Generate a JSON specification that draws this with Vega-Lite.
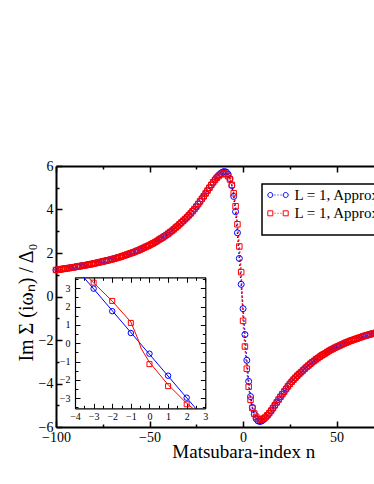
{
"$schema": "https://vega.github.io/schema/vega-lite/v6.json",
"autosize": {"type": "none"},
"width": 318, "height": 261,
"padding": {"left": 56, "top": 166, "right": 0, "bottom": 57},
"config": {"font": "Liberation Serif", "view": {"stroke": null},
  "legend": {"strokeWidth": 1.5},
  "axis": {"labelFont": "Liberation Serif", "titleFont": "Liberation Serif", "labelColor": "black", "titleColor": "black", "domainColor": "black", "tickColor": "black", "grid": false, "labelFlush": false, "labelOverlap": false, "titleFontWeight": "normal", "labelBound": false}},
"datasets": {
"blue": [
{"n":-100,"v":1.22},{"n":-99,"v":1.23},{"n":-98,"v":1.24},{"n":-97,"v":1.26},{"n":-96,"v":1.27},{"n":-95,"v":1.28},{"n":-94,"v":1.30},{"n":-93,"v":1.31},{"n":-92,"v":1.32},{"n":-91,"v":1.34},
{"n":-90,"v":1.35},{"n":-89,"v":1.37},{"n":-88,"v":1.38},{"n":-87,"v":1.40},{"n":-86,"v":1.41},{"n":-85,"v":1.43},{"n":-84,"v":1.44},{"n":-83,"v":1.46},{"n":-82,"v":1.48},{"n":-81,"v":1.49},
{"n":-80,"v":1.51},{"n":-79,"v":1.53},{"n":-78,"v":1.55},{"n":-77,"v":1.57},{"n":-76,"v":1.59},{"n":-75,"v":1.61},{"n":-74,"v":1.63},{"n":-73,"v":1.65},{"n":-72,"v":1.67},{"n":-71,"v":1.69},
{"n":-70,"v":1.71},{"n":-69,"v":1.74},{"n":-68,"v":1.76},{"n":-67,"v":1.79},{"n":-66,"v":1.81},{"n":-65,"v":1.84},{"n":-64,"v":1.87},{"n":-63,"v":1.90},{"n":-62,"v":1.93},{"n":-61,"v":1.96},
{"n":-60,"v":1.99},{"n":-59,"v":2.02},{"n":-58,"v":2.05},{"n":-57,"v":2.09},{"n":-56,"v":2.12},{"n":-55,"v":2.16},{"n":-54,"v":2.20},{"n":-53,"v":2.24},{"n":-52,"v":2.28},{"n":-51,"v":2.32},
{"n":-50,"v":2.36},{"n":-49,"v":2.41},{"n":-48,"v":2.45},{"n":-47,"v":2.50},{"n":-46,"v":2.55},{"n":-45,"v":2.61},{"n":-44,"v":2.66},{"n":-43,"v":2.71},{"n":-42,"v":2.77},{"n":-41,"v":2.83},
{"n":-40,"v":2.89},{"n":-39,"v":2.96},{"n":-38,"v":3.02},{"n":-37,"v":3.09},{"n":-36,"v":3.17},{"n":-35,"v":3.24},{"n":-34,"v":3.32},{"n":-33,"v":3.40},{"n":-32,"v":3.48},{"n":-31,"v":3.56},
{"n":-30,"v":3.64},{"n":-29,"v":3.73},{"n":-28,"v":3.82},{"n":-27,"v":3.92},{"n":-26,"v":4.02},{"n":-25,"v":4.13},{"n":-24,"v":4.25},{"n":-23,"v":4.37},{"n":-22,"v":4.49},{"n":-21,"v":4.61},
{"n":-20,"v":4.74},{"n":-19,"v":4.87},{"n":-18,"v":5.00},{"n":-17,"v":5.13},{"n":-16,"v":5.25},{"n":-15,"v":5.37},{"n":-14,"v":5.48},{"n":-13,"v":5.58},{"n":-12,"v":5.66},{"n":-11,"v":5.72},
{"n":-10,"v":5.75},{"n":-9,"v":5.72},{"n":-8,"v":5.62},{"n":-7,"v":5.42},{"n":-6,"v":5.10},{"n":-5,"v":4.60},{"n":-4,"v":3.90},{"n":-3,"v":2.93},{"n":-2,"v":1.75},{"n":-1,"v":0.56},
{"n":0,"v":-0.56},{"n":1,"v":-1.75},{"n":2,"v":-2.93},{"n":3,"v":-3.90},{"n":4,"v":-4.60},{"n":5,"v":-5.10},{"n":6,"v":-5.42},{"n":7,"v":-5.62},{"n":8,"v":-5.72},{"n":9,"v":-5.75},
{"n":10,"v":-5.72},{"n":11,"v":-5.66},{"n":12,"v":-5.58},{"n":13,"v":-5.48},{"n":14,"v":-5.37},{"n":15,"v":-5.25},{"n":16,"v":-5.13},{"n":17,"v":-5.00},{"n":18,"v":-4.87},{"n":19,"v":-4.74},
{"n":20,"v":-4.61},{"n":21,"v":-4.49},{"n":22,"v":-4.37},{"n":23,"v":-4.25},{"n":24,"v":-4.13},{"n":25,"v":-4.02},{"n":26,"v":-3.92},{"n":27,"v":-3.82},{"n":28,"v":-3.73},{"n":29,"v":-3.64},
{"n":30,"v":-3.56},{"n":31,"v":-3.48},{"n":32,"v":-3.40},{"n":33,"v":-3.32},{"n":34,"v":-3.24},{"n":35,"v":-3.17},{"n":36,"v":-3.09},{"n":37,"v":-3.02},{"n":38,"v":-2.96},{"n":39,"v":-2.89},
{"n":40,"v":-2.83},{"n":41,"v":-2.77},{"n":42,"v":-2.71},{"n":43,"v":-2.66},{"n":44,"v":-2.61},{"n":45,"v":-2.55},{"n":46,"v":-2.50},{"n":47,"v":-2.45},{"n":48,"v":-2.41},{"n":49,"v":-2.36},
{"n":50,"v":-2.32},{"n":51,"v":-2.28},{"n":52,"v":-2.24},{"n":53,"v":-2.20},{"n":54,"v":-2.16},{"n":55,"v":-2.12},{"n":56,"v":-2.09},{"n":57,"v":-2.05},{"n":58,"v":-2.02},{"n":59,"v":-1.99},
{"n":60,"v":-1.96},{"n":61,"v":-1.93},{"n":62,"v":-1.90},{"n":63,"v":-1.87},{"n":64,"v":-1.84},{"n":65,"v":-1.81},{"n":66,"v":-1.79},{"n":67,"v":-1.76},{"n":68,"v":-1.74},{"n":69,"v":-1.71},
{"n":70,"v":-1.69},{"n":71,"v":-1.67}
],
"red": [
{"n":-100,"v":1.22},{"n":-99,"v":1.23},{"n":-98,"v":1.24},{"n":-97,"v":1.26},{"n":-96,"v":1.27},{"n":-95,"v":1.28},{"n":-94,"v":1.30},{"n":-93,"v":1.31},{"n":-92,"v":1.32},{"n":-91,"v":1.34},
{"n":-90,"v":1.35},{"n":-89,"v":1.37},{"n":-88,"v":1.38},{"n":-87,"v":1.40},{"n":-86,"v":1.41},{"n":-85,"v":1.43},{"n":-84,"v":1.44},{"n":-83,"v":1.46},{"n":-82,"v":1.48},{"n":-81,"v":1.49},
{"n":-80,"v":1.51},{"n":-79,"v":1.53},{"n":-78,"v":1.55},{"n":-77,"v":1.57},{"n":-76,"v":1.59},{"n":-75,"v":1.61},{"n":-74,"v":1.63},{"n":-73,"v":1.65},{"n":-72,"v":1.67},{"n":-71,"v":1.69},
{"n":-70,"v":1.71},{"n":-69,"v":1.74},{"n":-68,"v":1.76},{"n":-67,"v":1.79},{"n":-66,"v":1.81},{"n":-65,"v":1.84},{"n":-64,"v":1.87},{"n":-63,"v":1.90},{"n":-62,"v":1.93},{"n":-61,"v":1.96},
{"n":-60,"v":1.99},{"n":-59,"v":2.02},{"n":-58,"v":2.05},{"n":-57,"v":2.09},{"n":-56,"v":2.12},{"n":-55,"v":2.16},{"n":-54,"v":2.20},{"n":-53,"v":2.24},{"n":-52,"v":2.28},{"n":-51,"v":2.32},
{"n":-50,"v":2.36},{"n":-49,"v":2.41},{"n":-48,"v":2.45},{"n":-47,"v":2.50},{"n":-46,"v":2.55},{"n":-45,"v":2.61},{"n":-44,"v":2.66},{"n":-43,"v":2.71},{"n":-42,"v":2.77},{"n":-41,"v":2.83},
{"n":-40,"v":2.89},{"n":-39,"v":2.96},{"n":-38,"v":3.02},{"n":-37,"v":3.09},{"n":-36,"v":3.17},{"n":-35,"v":3.24},{"n":-34,"v":3.32},{"n":-33,"v":3.40},{"n":-32,"v":3.48},{"n":-31,"v":3.56},
{"n":-30,"v":3.64},{"n":-29,"v":3.73},{"n":-28,"v":3.82},{"n":-27,"v":3.92},{"n":-26,"v":4.02},{"n":-25,"v":4.13},{"n":-24,"v":4.25},{"n":-23,"v":4.37},{"n":-22,"v":4.49},{"n":-21,"v":4.61},
{"n":-20,"v":4.74},{"n":-19,"v":4.87},{"n":-18,"v":5.00},{"n":-17,"v":5.13},{"n":-16,"v":5.25},{"n":-15,"v":5.36},{"n":-14,"v":5.46},{"n":-13,"v":5.54},{"n":-12,"v":5.61},{"n":-11,"v":5.65},
{"n":-10,"v":5.66},{"n":-9,"v":5.62},{"n":-8,"v":5.53},{"n":-7,"v":5.38},{"n":-6,"v":5.13},{"n":-5,"v":4.75},{"n":-4,"v":4.15},{"n":-3,"v":3.32},{"n":-2,"v":2.30},{"n":-1,"v":1.12},
{"n":0,"v":-1.12},{"n":1,"v":-2.30},{"n":2,"v":-3.32},{"n":3,"v":-4.15},{"n":4,"v":-4.75},{"n":5,"v":-5.13},{"n":6,"v":-5.38},{"n":7,"v":-5.53},{"n":8,"v":-5.62},{"n":9,"v":-5.66},
{"n":10,"v":-5.65},{"n":11,"v":-5.61},{"n":12,"v":-5.54},{"n":13,"v":-5.46},{"n":14,"v":-5.36},{"n":15,"v":-5.25},{"n":16,"v":-5.13},{"n":17,"v":-5.00},{"n":18,"v":-4.87},{"n":19,"v":-4.74},
{"n":20,"v":-4.61},{"n":21,"v":-4.49},{"n":22,"v":-4.37},{"n":23,"v":-4.25},{"n":24,"v":-4.13},{"n":25,"v":-4.02},{"n":26,"v":-3.92},{"n":27,"v":-3.82},{"n":28,"v":-3.73},{"n":29,"v":-3.64},
{"n":30,"v":-3.56},{"n":31,"v":-3.48},{"n":32,"v":-3.40},{"n":33,"v":-3.32},{"n":34,"v":-3.24},{"n":35,"v":-3.17},{"n":36,"v":-3.09},{"n":37,"v":-3.02},{"n":38,"v":-2.96},{"n":39,"v":-2.89},
{"n":40,"v":-2.83},{"n":41,"v":-2.77},{"n":42,"v":-2.71},{"n":43,"v":-2.66},{"n":44,"v":-2.61},{"n":45,"v":-2.55},{"n":46,"v":-2.50},{"n":47,"v":-2.45},{"n":48,"v":-2.41},{"n":49,"v":-2.36},
{"n":50,"v":-2.32},{"n":51,"v":-2.28},{"n":52,"v":-2.24},{"n":53,"v":-2.20},{"n":54,"v":-2.16},{"n":55,"v":-2.12},{"n":56,"v":-2.09},{"n":57,"v":-2.05},{"n":58,"v":-2.02},{"n":59,"v":-1.99},
{"n":60,"v":-1.96},{"n":61,"v":-1.93},{"n":62,"v":-1.90},{"n":63,"v":-1.87},{"n":64,"v":-1.84},{"n":65,"v":-1.81},{"n":66,"v":-1.79},{"n":67,"v":-1.76},{"n":68,"v":-1.74},{"n":69,"v":-1.71},
{"n":70,"v":-1.69},{"n":71,"v":-1.67}
],
"ia": [{"n":-3,"v":2.98},{"n":-2,"v":1.75},{"n":-1,"v":0.56},{"n":0,"v":-0.57},{"n":1,"v":-1.77},{"n":2,"v":-2.97}],
"ib": [{"n":-3,"v":3.31},{"n":-2,"v":2.31},{"n":-1,"v":1.11},{"n":0,"v":-1.14},{"n":1,"v":-2.34},{"n":2,"v":-3.33}],
"fa": [{"n":-3.53,"v":3.6},{"n":2.48,"v":-3.55}],
"fb": [{"n":-3.3,"v":3.6},{"n":-3,"v":3.3},{"n":-2,"v":2.3},{"n":-1,"v":1.16},{"n":-0.59,"v":0.16},{"n":-0.46,"v":-0.26},{"n":0,"v":-1.04},{"n":1,"v":-2.26},{"n":2,"v":-3.28},{"n":2.33,"v":-3.55}],
"lg": [{"s":"a","n":-100,"v":1.22},{"s":"b","n":-100,"v":1.22}]
},
"layer": [
{
"layer": [
{"data": {"name": "blue"},
 "mark": {"type": "line", "color": "#0000ff", "strokeWidth": 1.5, "strokeDash": [1.5, 2.5]},
 "encoding": {
  "x": {"field": "n", "type": "quantitative", "scale": {"domain": [-100, 70], "nice": false, "zero": false},
        "axis": {"orient": "bottom", "values": [-100, -50, 0, 50, 100], "tickSize": -6, "tickWidth": 1.5, "domainWidth": 2, "labelFontSize": 14, "labelPadding": 9, "title": "Matsubara-index n", "titleFontSize": 19, "titleX": 187.3, "titleY": 30.5, "titleBaseline": "alphabetic", "titleAlign": "center"}},
  "y": {"field": "v", "type": "quantitative", "scale": {"domain": [-6, 6], "nice": false, "zero": false},
        "axis": {"orient": "left", "values": [-6, -4, -2, 0, 2, 4, 6], "tickSize": -6, "tickWidth": 1.5, "domainWidth": 2, "labelFontSize": 14, "labelPadding": 9, "title": "Im Σ (iωₙ) / Δ₀", "titleFontSize": 20, "titleAngle": 270, "titleX": -24, "titleY": 136, "titleBaseline": "alphabetic", "titleAlign": "center"}}
 }},
{"data": {"name": "red"},
 "mark": {"type": "line", "color": "#ff0000", "strokeWidth": 1.5, "strokeDash": [1.5, 2.5]},
 "encoding": {
  "x": {"field": "n", "type": "quantitative", "scale": {"domain": [-100, 70], "nice": false, "zero": false},
        "axis": {"orient": "bottom", "values": [-75, -25, 25, 75], "tickSize": -3, "tickWidth": 1.5, "domain": false, "labels": false, "title": null}},
  "y": {"field": "v", "type": "quantitative", "scale": {"domain": [-6, 6], "nice": false, "zero": false},
        "axis": {"orient": "left", "values": [-5, -3, -1, 1, 3, 5], "tickSize": -3, "tickWidth": 1.5, "domain": false, "labels": false, "title": null}}
 }},
{"data": {"name": "blue"},
 "mark": {"type": "point", "shape": "circle", "filled": false, "color": "#0000ff", "size": 36, "strokeWidth": 1, "opacity": 1},
 "encoding": {
  "x": {"field": "n", "type": "quantitative", "scale": {"domain": [-100, 70], "nice": false, "zero": false},
        "axis": {"orient": "top", "values": [-100, -50, 0, 50, 100], "tickSize": -6, "tickWidth": 1.5, "domainWidth": 2, "labels": false, "title": null}},
  "y": {"field": "v", "type": "quantitative", "scale": {"domain": [-6, 6], "nice": false, "zero": false}, "axis": null}
 }},
{"data": {"name": "red"},
 "mark": {"type": "point", "shape": "square", "filled": false, "color": "#ff0000", "size": 30, "strokeWidth": 1, "opacity": 1},
 "encoding": {
  "x": {"field": "n", "type": "quantitative", "scale": {"domain": [-100, 70], "nice": false, "zero": false},
        "axis": {"orient": "top", "values": [-75, -25, 25, 75], "tickSize": -3, "tickWidth": 1.5, "domain": false, "labels": false, "title": null}},
  "y": {"field": "v", "type": "quantitative", "scale": {"domain": [-6, 6], "nice": false, "zero": false}, "axis": null}
 }},
{"data": {"name": "lg"},
 "mark": {"type": "point", "filled": false, "opacity": 0, "size": 100},
 "encoding": {
  "x": {"field": "n", "type": "quantitative", "scale": {"domain": [-100, 70], "nice": false, "zero": false}, "axis": null},
  "y": {"field": "v", "type": "quantitative", "scale": {"domain": [-6, 6], "nice": false, "zero": false}, "axis": null},
  "color": {"field": "s", "type": "nominal", "scale": {"domain": ["a", "b"], "range": ["#0000ff", "#ff0000"]},
    "legend": {"title": " ", "titleOrient": "bottom", "titleFontSize": 9, "titlePadding": 1, "orient": "none", "legendX": 206, "legendY": 18, "strokeColor": "black", "fillColor": "white", "padding": 3.5, "symbolSize": 100, "symbolStrokeWidth": 1, "symbolOffset": 5, "labelOffset": 9, "labelFont": "Liberation Serif", "labelFontSize": 15, "labelColor": "black", "rowPadding": 2.3, "symbolFillColor": "transparent", "symbolOpacity": 1, "labelExpr": "datum.label == 'a' ? 'L = 1, Approx. 1' : 'L = 1, Approx. 2'"}},
  "shape": {"field": "s", "type": "nominal", "scale": {"domain": ["a", "b"], "range": ["M-1.04,0A0.5,0.5,0,1,0,-2.04,0A0.5,0.5,0,1,0,-1.04,0ZM2.04,0A0.5,0.5,0,1,0,1.04,0A0.5,0.5,0,1,0,2.04,0ZM-0.7,0L-0.5,0M-0.1,0L0.1,0M0.5,0L0.7,0", "M-2.04,-0.5L-1.04,-0.5L-1.04,0.5L-2.04,0.5ZM1.04,-0.5L2.04,-0.5L2.04,0.5L1.04,0.5ZM-0.7,0L-0.5,0M-0.1,0L0.1,0M0.5,0L0.7,0"]},
    "legend": {"title": " ", "titleOrient": "bottom", "titleFontSize": 9, "titlePadding": 1, "orient": "none", "legendX": 206, "legendY": 18, "strokeColor": "black", "fillColor": "white", "padding": 3.5, "symbolSize": 100, "symbolStrokeWidth": 1, "symbolOffset": 5, "labelOffset": 9, "labelFont": "Liberation Serif", "labelFontSize": 15, "labelColor": "black", "rowPadding": 2.3, "symbolFillColor": "transparent", "symbolOpacity": 1, "labelExpr": "datum.label == 'a' ? 'L = 1, Approx. 1' : 'L = 1, Approx. 2'"}}
 }}
],
"resolve": {"axis": {"x": "independent", "y": "independent"}}
},
{
"layer": [
{"data": {"name": "fa"},
 "mark": {"type": "line", "color": "#0000ff", "strokeWidth": 1},
 "encoding": {
  "x": {"field": "n", "type": "quantitative", "scale": {"domain": [-4, 3], "range": [19, 149.3], "nice": false, "zero": false},
        "axis": {"orient": "bottom", "offset": -18.7, "values": [-4, -3, -2, -1, 0, 1, 2, 3], "tickSize": -5, "tickWidth": 1, "domainWidth": 1.2, "labelFontSize": 10, "labelPadding": 8.5, "title": null}},
  "y": {"field": "v", "type": "quantitative", "scale": {"domain": [-3.55, 3.6], "range": [242.3, 111.3], "nice": false, "zero": false},
        "axis": {"orient": "left", "offset": -19, "values": [-3, -2, -1, 0, 1, 2, 3], "tickSize": -5, "tickWidth": 1, "domainWidth": 1.2, "labelFontSize": 10, "labelPadding": 10, "title": null}}
 }},
{"data": {"name": "fb"},
 "mark": {"type": "line", "color": "#ff0000", "strokeWidth": 1},
 "encoding": {
  "x": {"field": "n", "type": "quantitative", "scale": {"domain": [-4, 3], "range": [19, 149.3], "nice": false, "zero": false},
        "axis": {"orient": "bottom", "offset": -18.7, "values": [-3.5, -2.5, -1.5, -0.5, 0.5, 1.5, 2.5], "tickSize": -3, "tickWidth": 1, "domain": false, "labels": false, "title": null}},
  "y": {"field": "v", "type": "quantitative", "scale": {"domain": [-3.55, 3.6], "range": [242.3, 111.3], "nice": false, "zero": false},
        "axis": {"orient": "left", "offset": -19, "values": [-3.5, -2.5, -1.5, -0.5, 0.5, 1.5, 2.5, 3.5], "tickSize": -3, "tickWidth": 1, "domain": false, "labels": false, "title": null}}
 }},
{"data": {"name": "ia"},
 "mark": {"type": "point", "shape": "circle", "filled": false, "color": "#0000ff", "size": 30, "strokeWidth": 1, "opacity": 1},
 "encoding": {
  "x": {"field": "n", "type": "quantitative", "scale": {"domain": [-4, 3], "range": [19, 149.3], "nice": false, "zero": false},
        "axis": {"orient": "top", "offset": -111.3, "values": [-4, -3, -2, -1, 0, 1, 2, 3], "tickSize": -5, "tickWidth": 1, "domainWidth": 1.2, "labels": false, "title": null}},
  "y": {"field": "v", "type": "quantitative", "scale": {"domain": [-3.55, 3.6], "range": [242.3, 111.3], "nice": false, "zero": false},
        "axis": {"orient": "right", "offset": -168.7, "values": [-3, -2, -1, 0, 1, 2, 3], "tickSize": -5, "tickWidth": 1, "domainWidth": 1.2, "labels": false, "title": null}}
 }},
{"data": {"name": "ib"},
 "mark": {"type": "point", "shape": "square", "filled": false, "color": "#ff0000", "size": 25, "strokeWidth": 1, "opacity": 1},
 "encoding": {
  "x": {"field": "n", "type": "quantitative", "scale": {"domain": [-4, 3], "range": [19, 149.3], "nice": false, "zero": false},
        "axis": {"orient": "top", "offset": -111.3, "values": [-3.5, -2.5, -1.5, -0.5, 0.5, 1.5, 2.5], "tickSize": -3, "tickWidth": 1, "domain": false, "labels": false, "title": null}},
  "y": {"field": "v", "type": "quantitative", "scale": {"domain": [-3.55, 3.6], "range": [242.3, 111.3], "nice": false, "zero": false},
        "axis": {"orient": "right", "offset": -168.7, "values": [-3.5, -2.5, -1.5, -0.5, 0.5, 1.5, 2.5, 3.5], "tickSize": -3, "tickWidth": 1, "domain": false, "labels": false, "title": null}}
 }}
],
"resolve": {"axis": {"x": "independent", "y": "independent"}}
}
],
"resolve": {"scale": {"x": "independent", "y": "independent"}, "axis": {"x": "independent", "y": "independent"}}
}
